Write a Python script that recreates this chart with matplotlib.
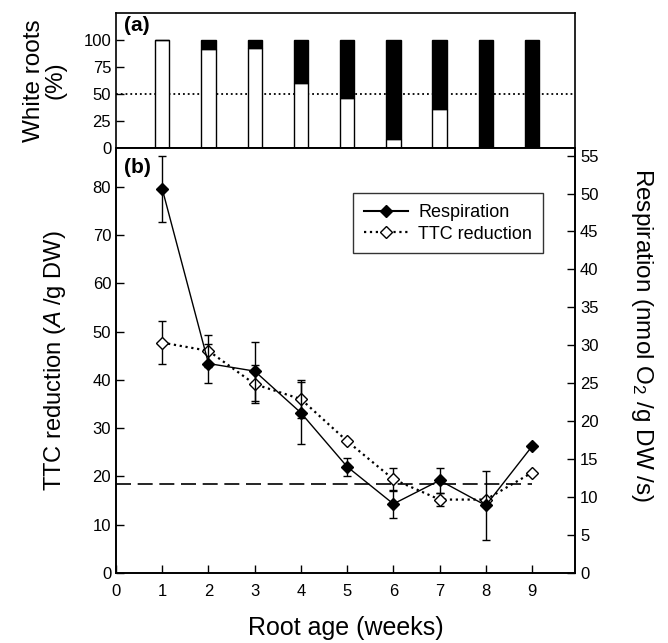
import matplotlib
matplotlib.use("Agg")
import matplotlib.pyplot as plt
from matplotlib.lines import Line2D

plt.rcParams['font.family'] = ['Liberation Sans', 'DejaVu Sans']
plt.rcParams['mathtext.fontset'] = 'custom'
plt.rcParams['mathtext.rm'] = 'Liberation Sans'
plt.rcParams['mathtext.it'] = 'Liberation Sans:italic'

# data
weeks = [1, 2, 3, 4, 5, 6, 7, 8, 9]
white_pct = [100, 92, 93, 60, 46, 8, 36, 0, 0]
brown_pct = [100 - w for w in white_pct]

ttc = [47.7, 46.0, 39.1, 36.0, 27.3, 19.4, 15.2, 15.2, 20.8]
ttc_err = [4.4, 3.3, 4.0, 4.0, 0.0, 2.4, 1.3, 0.0, 0.0]

resp = [50.6, 27.6, 26.6, 21.1, 14.0, 9.1, 12.2, 8.9, 16.7]
resp_err = [4.4, 2.6, 3.9, 4.1, 1.2, 1.8, 1.6, 4.5, 0.0]

ttc_ref = 18.5

fig = plt.figure(figsize=(6.68, 6.43), dpi=100)
ax_a = fig.add_axes([0.1737, 0.7698, 0.6872, 0.2100])
ax_b = fig.add_axes([0.1737, 0.1089, 0.6872, 0.6609])
ax_r = ax_b.twinx()

# (a) white / brown roots
ax_a.bar(weeks, white_pct, width=0.31, color='white', edgecolor='black', linewidth=1.0)
ax_a.bar(weeks, brown_pct, width=0.31, bottom=white_pct, color='black', edgecolor='black', linewidth=1.0)
ax_a.axhline(50, color='black', linestyle=':', linewidth=1.3, zorder=0)
ax_a.set_xlim(0, 9.93)
ax_a.set_ylim(0, 125)
ax_a.set_yticks([0, 25, 50, 75, 100])
ax_a.set_xticks([])
ax_a.set_ylabel('White roots\n(%)', fontsize=17.5, labelpad=12, linespacing=1.0)
ax_a.text(0.18, 122, '(a)', fontsize=15, fontweight='bold', va='top')

# (b) TTC reduction on left, respiration on right
ax_b.plot([0, 9], [ttc_ref, ttc_ref], color='black', linestyle=(0, (9, 4)), linewidth=1.2)
ax_b.errorbar(weeks, ttc, yerr=ttc_err, color='black', linestyle=':', linewidth=1.6,
              marker='D', markersize=6.5, markerfacecolor='white', markeredgecolor='black',
              capsize=3, elinewidth=1.0, zorder=3)
ax_r.errorbar(weeks, resp, yerr=resp_err, color='black', linestyle='-', linewidth=1.0,
              marker='D', markersize=6.5, markerfacecolor='black', markeredgecolor='black',
              capsize=3, elinewidth=1.0, zorder=4)

ax_b.set_xlim(0, 9.93)
ax_b.set_ylim(0, 88)
ax_b.set_yticks(range(0, 81, 10))
ax_b.set_xticks(range(0, 10))
ax_r.set_ylim(0, 56)
ax_r.set_yticks(range(0, 56, 5))

ax_b.set_xlabel('Root age (weeks)', fontsize=18, labelpad=12)
ax_b.set_ylabel(r'TTC reduction ($\it{A}$ /g DW)', fontsize=17, labelpad=18)
ax_r.set_ylabel(r'Respiration (nmol O$_2$ /g DW /s)', fontsize=17.5, rotation=270,
                ha='center', va='center')
ax_r.yaxis.set_label_coords(1.145, 0.56)
ax_b.text(0.18, 86, '(b)', fontsize=15, fontweight='bold', va='top')

handles = [Line2D([], [], color='black', linestyle='-', marker='D', markersize=6.5,
                  markerfacecolor='black'),
           Line2D([], [], color='black', linestyle=':', linewidth=1.6, marker='D', markersize=6.5,
                  markerfacecolor='white')]
leg = ax_r.legend(handles, ['Respiration', 'TTC reduction'], loc='upper right',
                  bbox_to_anchor=(0.95, 0.915), fontsize=13, frameon=True, fancybox=False,
                  edgecolor='black', handlelength=2.4, handletextpad=0.6,
                  borderpad=0.6, labelspacing=0.25)
leg.get_frame().set_linewidth(1.0)

for ax in (ax_a, ax_b, ax_r):
    for s in ax.spines.values():
        s.set_linewidth(1.2)
    ax.tick_params(direction='in', length=6, width=1.0, labelsize=12)
ax_b.tick_params(axis='x', pad=8)

fig.savefig('out.png', dpi=100)
